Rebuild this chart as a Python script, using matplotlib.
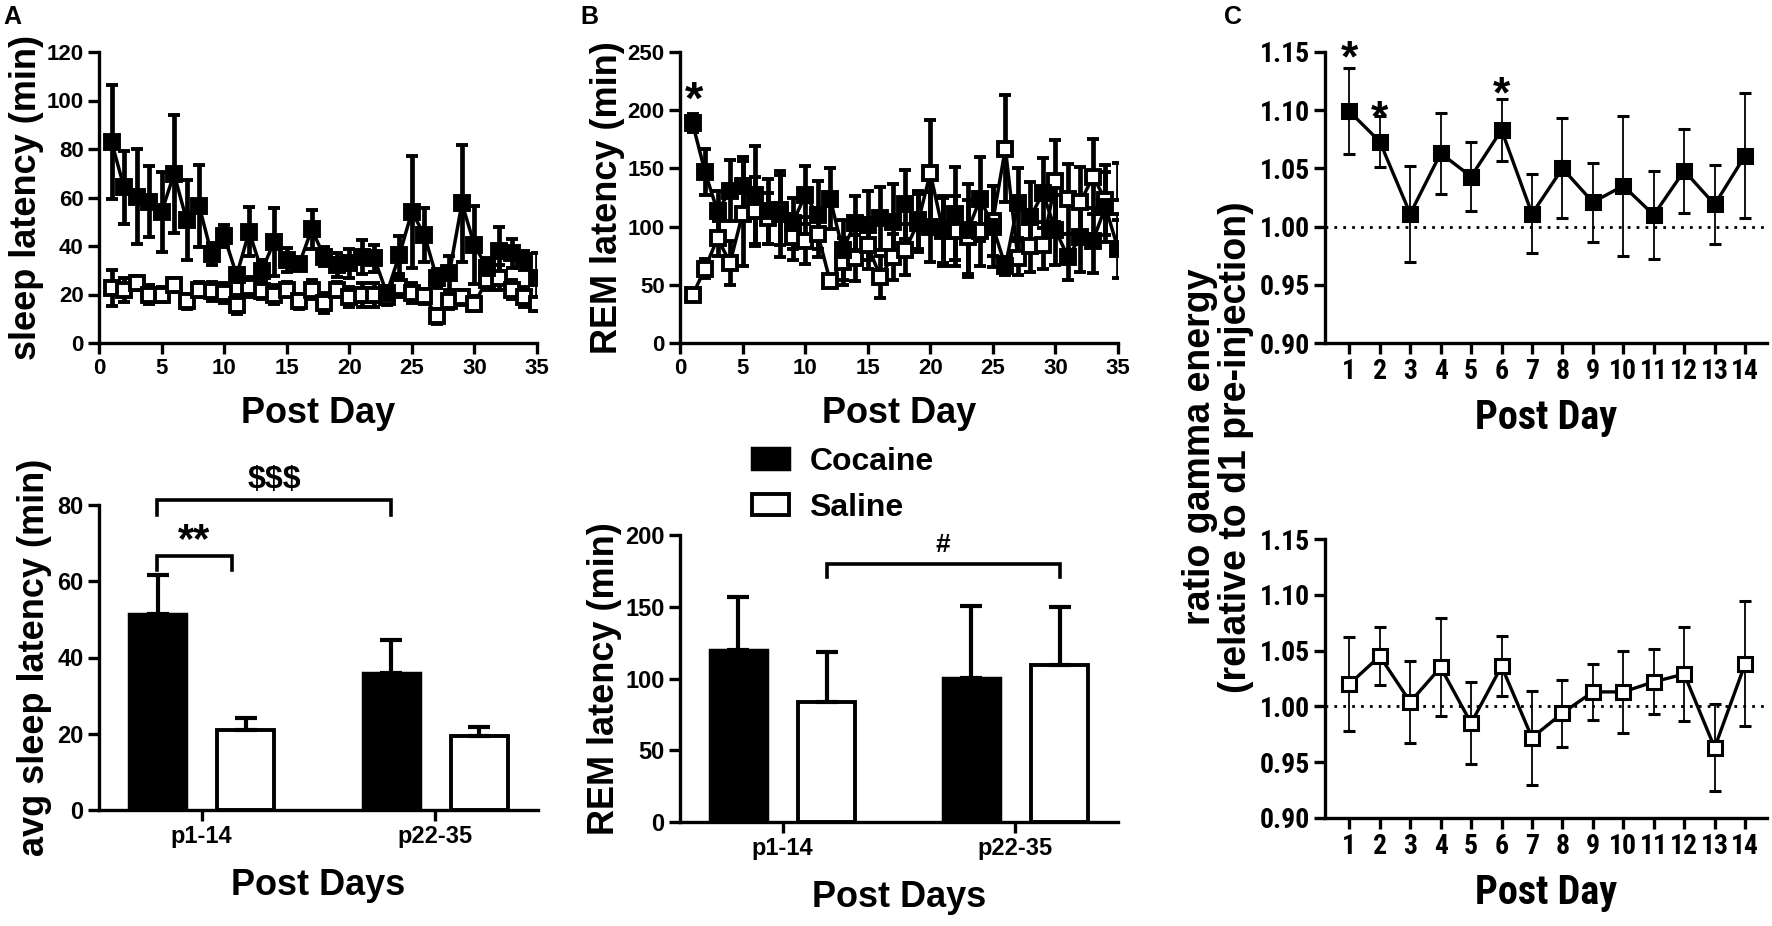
import numpy as np
import matplotlib.pyplot as plt
from matplotlib import font_manager as fm

plt.rcParams['font.family'] = ['Liberation Sans', 'DejaVu Sans']
plt.rcParams['font.weight'] = 'bold'
plt.rcParams['axes.labelweight'] = 'bold'

# ---- data -------------------------------------------------------------
days35 = np.arange(1, 36)
days14 = np.arange(1, 15)

sleep_coc = [83.0, 64.2, 60.3, 58.3, 54.1, 69.7, 50.7, 56.5, 36.7, 44.1,
             28.0, 45.9, 29.8, 41.8, 34.2, 32.6, 46.9, 35.6, 32.2, 32.9,
             35.6, 34.9, 20.5, 36.3, 54.1, 44.5, 26.7, 29.0, 57.6, 40.4,
             31.0, 38.0, 37.0, 34.0, 27.0]
sleep_coc_err = [23.5, 15, 19.5, 14.5, 16.5, 24.5, 16.5, 17, 4.5, 4.5,
                 3, 10, 4.5, 14, 5, 2, 8, 4, 5, 6,
                 7, 5.5, 3, 8, 23, 11, 4, 7, 24, 16,
                 4, 10, 6, 4, 10]
sleep_sal = [22.7, 22.0, 24.7, 19.9, 19.9, 24.0, 17.2, 22.0, 21.3, 20.6,
             15.8, 23.1, 21.3, 19.9, 22.0, 17.2, 22.0, 16.5, 22.0, 19.0,
             19.9, 19.9, 18.8, 23.1, 20.6, 19.2, 11.0, 17.2, 18.8, 16.2,
             26.0, 27.0, 22.0, 19.0, 16.0]
sleep_sal_err = [7.5, 5, 3, 4, 3, 3, 3, 3, 4, 4,
                 4, 4, 3, 4, 3, 3, 4, 4, 3, 4,
                 5, 5, 3, 4, 4, 3, 3, 3, 3, 3,
                 4, 5, 4, 4, 3]

rem_coc = [189, 147, 113, 131, 135, 127, 113, 111, 103, 127,
           110, 124, 80, 103, 101, 107, 104, 119, 106, 100,
           96, 111, 97, 124, 100, 66, 120, 108, 129, 97,
           74, 91, 88, 117, 81]
rem_coc_err = [8, 20, 18, 26, 25, 42, 28, 37, 22, 25,
               29, 26, 26, 23, 30, 27, 33, 30, 25, 30,
               30, 40, 40, 36, 35, 8, 30, 30, 30, 30,
               20, 30, 28, 30, 25]
rem_sal = [41, 64, 90, 69, 111, 113, 107, 114, 91, 88,
           94, 53, 70, 73, 84, 57, 74, 80, 103, 146,
           97, 96, 91, 96, 105, 167, 73, 83, 84, 139,
           124, 121, 143, 123, 117]
rem_sal_err = [5, 8, 15, 19, 45, 30, 22, 30, 20, 20,
               20, 4, 20, 20, 20, 18, 20, 22, 25, 46,
               28, 30, 32, 30, 30, 46, 15, 22, 20, 35,
               30, 30, 32, 30, 38]

groups = ['p1-14', 'p22-35']
avg_sleep_coc = [51.4, 36.0]
avg_sleep_coc_err = [10.2, 8.5]
avg_sleep_sal = [20.9, 19.3]
avg_sleep_sal_err = [3.3, 2.4]

avg_rem_coc = [120.0, 100.2]
avg_rem_coc_err = [36.6, 50.2]
avg_rem_sal = [83.5, 109.3]
avg_rem_sal_err = [35.1, 40.3]

gamma_coc = [1.099, 1.073, 1.011, 1.063, 1.043, 1.083, 1.011, 1.050, 1.021,
             1.035, 1.010, 1.048, 1.019, 1.061]
gamma_coc_err = [0.037, 0.022, 0.041, 0.035, 0.030, 0.027, 0.034, 0.043,
                 0.034, 0.060, 0.038, 0.036, 0.034, 0.054]
gamma_sal = [1.020, 1.045, 1.004, 1.035, 0.985, 1.036, 0.972, 0.994, 1.013,
             1.013, 1.022, 1.029, 0.963, 1.038]
gamma_sal_err = [0.042, 0.026, 0.037, 0.044, 0.037, 0.027, 0.042, 0.030,
                 0.025, 0.037, 0.029, 0.042, 0.039, 0.056]

# ---- layout helpers ---------------------------------------------------
W, H = 1772, 926
fig = plt.figure(figsize=(W / 100, H / 100), dpi=100)


def box(x0, x1, y0, y1):
    # pixel box (y from top) -> figure fraction rect
    return [x0 / W, 1 - y1 / H, (x1 - x0) / W, (y1 - y0) / H]


def pick_font(cands, default='Liberation Sans'):
    # first installed family from the list
    for c in cands:
        try:
            fm.findfont(fm.FontProperties(family=c, weight='bold'),
                        fallback_to_default=False)
            return c
        except ValueError:
            pass
    return default


narrow = [pick_font(['Liberation Sans Narrow', 'Arial Narrow',
                     'Roboto Condensed', 'Open Sans Condensed']),
          'DejaVu Sans']


def prism(ax, lw=2.4, size=16, family=None):
    for s in ['top', 'right']:
        ax.spines[s].set_visible(False)
    for s in ['left', 'bottom']:
        ax.spines[s].set_linewidth(lw)
    ax.tick_params(direction='out', length=8, width=lw, pad=3, labelsize=size)
    if family:
        for t in ax.get_xticklabels() + ax.get_yticklabels():
            t.set_family(family)


def daily(ax, y, err, filled):
    ax.errorbar(days35, y, yerr=err, fmt='-s', color='k',
                mfc='k' if filled else 'white', mec='k',
                ms=9.5 if filled else 10, mew=2.8, lw=2.5, elinewidth=3.4,
                capsize=4.5, capthick=3.4)


# ---- A top: sleep latency per day ------------------------------------
axA = fig.add_axes(box(99, 537, 52, 343))
daily(axA, sleep_sal, sleep_sal_err, False)
daily(axA, sleep_coc, sleep_coc_err, True)
axA.set_xlim(0, 35)
axA.set_ylim(0, 120)
axA.set_xticks(range(0, 36, 5))
axA.set_yticks(range(0, 121, 20))
axA.set_xlabel('Post Day', fontsize=26, labelpad=12)
axA.set_ylabel('sleep latency (min)', fontsize=26, labelpad=2)
prism(axA)

# ---- B top: REM latency per day --------------------------------------
axB = fig.add_axes(box(680, 1118, 52, 343))
daily(axB, rem_sal, rem_sal_err, False)
daily(axB, rem_coc, rem_coc_err, True)
axB.text(1.1, 207, '*', ha='center', va='center', fontsize=34)
axB.set_xlim(0, 35)
axB.set_ylim(0, 250)
axB.set_xticks(range(0, 36, 5))
axB.set_yticks(range(0, 251, 50))
axB.set_xlabel('Post Day', fontsize=26, labelpad=12)
axB.set_ylabel('REM latency (min)', fontsize=26, labelpad=2)
prism(axB)

# ---- bar panels -------------------------------------------------------
xg = np.arange(len(groups))
bw, off = 0.245, 0.189


def bars(ax, coc, coc_err, sal, sal_err):
    b1 = ax.bar(xg - off, coc, bw, color='k', edgecolor='k', lw=2.5)
    b2 = ax.bar(xg + off, sal, bw, color='white', edgecolor='k', lw=2.8)
    ax.errorbar(xg - off, coc, yerr=[np.zeros(len(coc)), coc_err], fmt='none',
                ecolor='k', elinewidth=3, capsize=8, capthick=3, zorder=1)
    ax.errorbar(xg + off, sal, yerr=[np.zeros(len(sal)), sal_err], fmt='none',
                ecolor='k', elinewidth=3, capsize=8, capthick=3, zorder=1)
    ax.set_xlim(-0.44, 1.44)
    ax.set_xticks(xg)
    ax.set_xticklabels(groups)
    ax.set_xlabel('Post Days', fontsize=26, labelpad=14)
    return b1, b2


def bracket(ax, x0, x1, ytop, ylow, label, ty, fs):
    ax.plot([x0, x0, x1, x1], [ylow, ytop, ytop, ylow], color='k', lw=2.6,
            clip_on=False, solid_joinstyle='miter')
    ax.text((x0 + x1) / 2, ty, label, ha='center', va='center', fontsize=fs)


axA2 = fig.add_axes(box(99, 538, 505, 810))
bars(axA2, avg_sleep_coc, avg_sleep_coc_err, avg_sleep_sal, avg_sleep_sal_err)
axA2.set_ylim(0, 80)
axA2.set_yticks(range(0, 81, 20))
axA2.set_ylabel('avg sleep latency (min)', fontsize=26, labelpad=4)
bracket(axA2, -0.193, 0.811, 81.2, 77.5, '$$$', 86.5, 23)
bracket(axA2, -0.193, 0.128, 66.5, 62.9, '**', 70.5, 30)
prism(axA2, size=17)

axB2 = fig.add_axes(box(680, 1118, 535, 822))
hc, hs = bars(axB2, avg_rem_coc, avg_rem_coc_err, avg_rem_sal, avg_rem_sal_err)
axB2.set_ylim(0, 200)
axB2.set_yticks(range(0, 201, 50))
axB2.set_ylabel('REM latency (min)', fontsize=26, labelpad=2)
bracket(axB2, 0.189, 1.189, 179.5, 170.6, '#', 193, 19)
prism(axB2, size=17)

fig.legend([hc, hs], ['Cocaine', 'Saline'], loc='upper left',
           bbox_to_anchor=(752 / W, 1 - 447 / H), frameon=False,
           fontsize=23, handlelength=1.15, handleheight=0.65,
           handletextpad=0.65, labelspacing=0.5, borderpad=0, borderaxespad=0)


# ---- C: gamma energy ratio -------------------------------------------
def gamma(ax, y, err, filled):
    ax.axhline(1.0, color='k', lw=2, ls=(0, (1, 2.2)))
    ax.errorbar(days14, y, yerr=err, fmt='-s', color='k',
                mfc='k' if filled else 'white', mec='k', ms=10,
                mew=2.2, lw=2.4, elinewidth=1.3, capsize=4.5, capthick=1.3)
    ax.set_xlim(0.2, 14.72)
    ax.set_ylim(0.90, 1.15)
    ax.set_xticks(days14)
    ticks = np.arange(0.90, 1.151, 0.05)
    ax.set_yticks(ticks)
    ax.set_yticklabels(['%.2f' % v for v in ticks])
    ax.set_xlabel('Post Day', fontsize=29, labelpad=10, family=narrow)
    prism(ax, lw=2.4, size=20, family=narrow)


axC = fig.add_axes(box(1325, 1767, 52, 343))
gamma(axC, gamma_coc, gamma_coc_err, True)
for d, yv in [(1, 1.143), (2, 1.092), (6, 1.112)]:
    axC.text(d, yv, '*', ha='center', va='center', fontsize=32)

axC2 = fig.add_axes(box(1325, 1767, 539, 818))
gamma(axC2, gamma_sal, gamma_sal_err, False)

fig.text(1218 / W, 1 - 447 / H, 'ratio gamma energy\n(relative to d1 pre-injection)',
         rotation=90, ha='center', va='center', fontsize=27, linespacing=1.0)

# ---- panel letters ----------------------------------------------------
for x, letter in [(3, 'A'), (580, 'B'), (1224, 'C')]:
    fig.text(x / W, 1 - 5 / H, letter, ha='left', va='top', fontsize=18)

fig.savefig('out.png', dpi=100)
